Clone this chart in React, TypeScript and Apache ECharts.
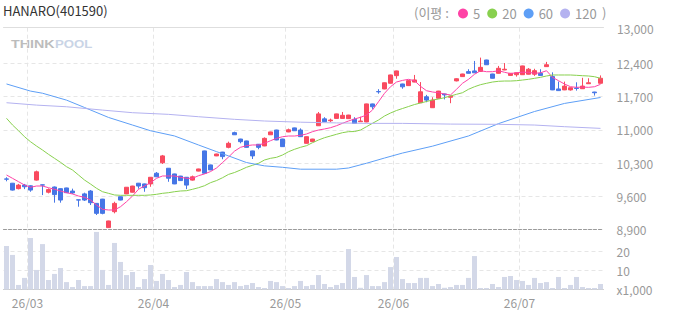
import React, { useEffect, useRef } from "react";
import * as echarts from "echarts";

const TITLE = "HANARO(401590)";
const LEGEND_PREFIX = "(이평 :";
const LEGEND_SUFFIX = ")";
const TOP_PRICE_LABEL = "13,000";

const MONTH_DAYS: [string, number[]][] = [
  ["26/02", [24, 25, 26, 27]],
  ["26/03", [3, 4, 5, 6, 9, 10, 11, 12, 13, 16, 17, 18, 19, 20, 23, 24, 25, 26, 27, 30, 31]],
  ["26/04", [1, 2, 3, 6, 7, 8, 9, 10, 13, 14, 15, 16, 17, 20, 21, 22, 23, 24, 27, 28, 29, 30]],
  ["26/05", [4, 6, 7, 8, 11, 12, 13, 14, 15, 18, 19, 20, 21, 22, 26, 27, 28, 29]],
  ["26/06", [1, 2, 4, 5, 8, 9, 10, 11, 12, 15, 16, 17, 18, 19, 22, 23, 24, 25, 26, 29, 30]],
  ["26/07", [1, 2, 3, 6, 7, 8, 9, 10, 13, 14, 15, 16, 17, 20]],
];

const OPEN = [
  9965, 9875, 9760, 9835, 9820, 9940, 9840, 9685, 9795, 9760,
  9775, 9710, 9525, 9650, 9710, 9450, 9540, 8940, 9275, 9590,
  9650, 9685, 9875, 9860, 9860, 10085, 10305, 10190, 10070, 10025,
  10000, 9940, 10130, 10555, 10260, 10450, 10530, 10630, 10940, 10805,
  10765, 10555, 10695, 10660, 10895, 10995, 10805, 10955, 11040, 10995,
  10715, 10750, 11085, 11230, 11190, 11240, 11240, 11235, 11220, 11170,
  11165, 11545, 11805, 11860, 11980, 12140, 11965, 11930, 12005, 11570,
  11695, 11465, 11665, 11755, 11685, 12030, 12120, 12225, 12240, 12230,
  12470, 12175, 12190, 12260, 12145, 12160, 12160, 12170, 12170, 12190,
  12330, 12120, 11860, 11840, 11840, 11880, 11865, 11970, 11795, 11980,
];
const CLOSE = [
  9960, 9730, 9835, 9800, 9730, 10115, 9835, 9740, 9635, 9520,
  9675, 9670, 9520, 9520, 9465, 9240, 9240, 9080, 9450, 9520,
  9790, 9815, 9815, 9780, 10000, 10010, 10450, 9980, 9860, 9930,
  9835, 10010, 10175, 10085, 10155, 10490, 10435, 10715, 10895, 10750,
  10630, 10450, 10630, 10820, 10955, 10785, 10645, 11000, 10980, 10855,
  10855, 10805, 11335, 11170, 11205, 11335, 11305, 11310, 11135, 11185,
  11545, 11485, 11800, 11990, 12155, 12240, 11905, 12035, 12050, 11800,
  11625, 11625, 11815, 11735, 11710, 12075, 12175, 12190, 12200, 12315,
  12370, 12085, 12295, 12275, 12190, 12200, 12345, 12275, 12245, 12145,
  12370, 11840, 11825, 11920, 11885, 11870, 11920, 11990, 11780, 12085,
];
const LOW = [
  9915, 9720, 9745, 9750, 9695, 9930, 9625, 9660, 9465, 9465,
  9670, 9650, 9380, 9500, 9415, 9205, 9220, 8935, 9240, 9515,
  9645, 9680, 9760, 9695, 9800, 10005, 10280, 9905, 9855, 9925,
  9750, 9930, 10125, 10080, 10150, 10445, 10380, 10610, 10890, 10715,
  10625, 10385, 10590, 10655, 10890, 10780, 10640, 10950, 10975, 10850,
  10710, 10745, 11080, 11165, 11165, 11235, 11235, 11230, 11130, 11165,
  11160, 11440, 11760, 11855, 11975, 12075, 11865, 11925, 12000, 11565,
  11580, 11460, 11660, 11640, 11560, 12020, 12115, 12185, 12195, 12225,
  12365, 12080, 12185, 12255, 12140, 12120, 12155, 12165, 12135, 12140,
  12325, 11835, 11820, 11835, 11825, 11825, 11860, 11965, 11720, 11975,
];
const HIGH = [
  10000, 9880, 9860, 9860, 9830, 10140, 9845, 9765, 9805, 9765,
  9780, 9760, 9525, 9675, 9730, 9455, 9545, 9085, 9485, 9595,
  9795, 9820, 9880, 9865, 10005, 10110, 10470, 10195, 10075, 10030,
  10005, 10035, 10180, 10560, 10265, 10495, 10535, 10750, 10960, 10810,
  10770, 10560, 10700, 10840, 10960, 11000, 10810, 11025, 11045, 11030,
  10860, 10810, 11375, 11265, 11235, 11340, 11375, 11315, 11265, 11275,
  11550, 11550, 11855, 11995, 12160, 12245, 11970, 12040, 12155, 12005,
  11735, 11685, 11820, 11760, 11715, 12085, 12180, 12275, 12450, 12520,
  12475, 12180, 12345, 12405, 12195, 12205, 12350, 12300, 12285, 12275,
  12430, 12210, 12015, 12015, 11890, 12000, 12095, 12085, 11800, 12145,
];

const MA5 = [
  10048, 9978, 9907, 9837, 9789, 9816, 9816, 9780, 9747, 9711,
  9675, 9648, 9605, 9578, 9521, 9416, 9325, 9311, 9311, 9380,
  9485, 9605, 9747, 9816, 9886, 9978, 10027, 10027, 10027, 9999,
  9978, 9978, 10033, 10070, 10120, 10195, 10310, 10425, 10550, 10631,
  10665, 10680, 10680, 10715, 10770, 10820, 10854, 10869, 10869, 10883,
  10911, 10960, 10995, 11017, 11044, 11086, 11137, 11185, 11227, 11263,
  11311, 11417, 11591, 11768, 11907, 12006, 12040, 12063, 12034, 11915,
  11823, 11796, 11781, 11754, 11733, 11853, 11979, 12063, 12169, 12244,
  12223, 12223, 12244, 12211, 12183, 12202, 12211, 12211, 12190, 12200,
  12244, 12105, 12034, 11964, 11907, 11894, 11900, 11894, 11907, 11958,
];
const MA20 = [
  11242, 11101, 10981, 10854, 10749, 10658, 10574, 10483, 10399, 10315,
  10223, 10153, 10048, 9942, 9858, 9768, 9696, 9662, 9627, 9620,
  9620, 9620, 9620, 9620, 9627, 9641, 9662, 9675, 9696, 9711,
  9717, 9747, 9780, 9822, 9886, 9930, 9990, 10060, 10100, 10153,
  10210, 10252, 10294, 10364, 10399, 10420, 10469, 10538, 10589, 10631,
  10665, 10728, 10785, 10833, 10869, 10905, 10939, 10960, 10963, 10995,
  11065, 11137, 11206, 11290, 11353, 11406, 11448, 11490, 11532, 11564,
  11596, 11627, 11648, 11676, 11712, 11747, 11781, 11853, 11907, 11950,
  11979, 12006, 12021, 12027, 12027, 12034, 12048, 12063, 12084, 12105,
  12133, 12154, 12154, 12154, 12154, 12147, 12139, 12133, 12118, 12084,
];
// MA60 / MA120 read at sampled days (other days left empty, joined by the line)
const MA60_POINTS: [number, number][] = [
  [0, 11965], [4, 11815], [6, 11770], [10, 11625], [13, 11470], [17, 11260],
  [21, 11100], [24, 10980], [28, 10870], [32, 10680], [35, 10540], [37, 10450],
  [40, 10310], [43, 10240], [46, 10210], [49, 10170], [55, 10170], [57, 10195],
  [60, 10295], [63, 10405], [66, 10510], [71, 10655], [77, 10870], [82, 11130],
  [88, 11385], [93, 11555], [99, 11680],
];
const MA120_POINTS: [number, number][] = [
  [0, 11570], [5, 11520], [10, 11485], [16, 11415], [21, 11360], [27, 11325],
  [32, 11275], [38, 11220], [43, 11185], [49, 11160], [55, 11145], [60, 11135],
  [66, 11135], [74, 11120], [82, 11115], [88, 11100], [93, 11065], [99, 11030],
];
// volume in thousands of shares
const VOLUME = [
  22.9, 18.2, 2.4, 6.1, 27.1, 10.3, 23.9, 5.0, 8.2, 11.3,
  3.9, 1.3, 5.0, 1.8, 1.8, 30.3, 10.3, 2.4, 24.5, 14.5,
  7.6, 9.2, 1.3, 5.5, 12.9, 4.5, 8.2, 5.0, 1.3, 2.4,
  9.2, 3.9, 1.8, 1.8, 1.8, 5.5, 3.9, 2.4, 3.9, 1.8,
  2.4, 3.4, 1.3, 0.8, 4.5, 3.9, 1.8, 0.8, 1.8, 4.5,
  1.8, 2.4, 7.6, 2.9, 1.3, 2.4, 3.4, 21.3, 6.6, 0.9,
  7.6, 1.8, 1.8, 3.9, 11.8, 17.1, 5.5, 3.4, 3.4, 6.1,
  6.1, 1.8, 2.9, 0.9, 1.3, 2.4, 2.4, 6.1, 17.6, 0.8,
  0.8, 2.9, 1.3, 6.6, 7.1, 5.0, 4.5, 2.4, 6.1, 3.4,
  3.9, 0.8, 6.6, 0.8, 2.4, 6.6, 1.3, 0.8, 0.8, 2.9,
];

const PRICE_TICKS = [8900, 9600, 10300, 11000, 11700, 12400];
const PRICE_MIN = 8900;
const PRICE_MAX = 13150;
const VOLUME_TICKS = [0, 10, 20];
const VOLUME_MAX = 31;

const MA_NAMES = ["5", "20", "60", "120"];
const MA_COLORS = ["#ff42a6", "#88d04e", "#5e9ff6", "#b4b2f0"];
const UP = "#f94a5f";
const DOWN = "#4676e6";
const VOL_COLOR = "#d3d8e8";
const FONT = '"Noto Sans CJK KR", "Noto Sans", sans-serif';

const DATES = MONTH_DAYS.flatMap(([m, ds]) => ds.map((d) => `${m}/${String(d).padStart(2, "0")}`));
const isMonthStart = (i: number) => i > 0 && DATES[i].slice(0, 5) !== DATES[i - 1].slice(0, 5);

function sparse(points: [number, number][]) {
  const arr: (number | null)[] = DATES.map(() => null);
  points.forEach(([i, v]) => (arr[i] = v));
  return arr;
}

export default function App() {
  const ref = useRef<HTMLDivElement>(null);
  useEffect(() => {
    if (!ref.current) return;
    const chart = echarts.init(ref.current, undefined, { renderer: "svg" });
    const gridLine = { color: "#e6e6e6", type: [4, 3] as any, width: 1 };
    const maData = [MA5, MA20, sparse(MA60_POINTS), sparse(MA120_POINTS)];
    chart.setOption({
      animation: false,
      backgroundColor: "#ffffff",
      textStyle: { fontFamily: FONT },
      grid: [
        { left: 3.5, right: 69.5, top: 27.7, height: 201.8 },
        { left: 3.5, right: 69.5, top: 230.6, height: 58.9 },
      ],
      legend: {
        data: MA_NAMES,
        left: 453,
        top: 2,
        padding: 5,
        icon: "circle",
        itemWidth: 10,
        itemHeight: 10,
        itemGap: 7,
        selectedMode: false,
        textStyle: { color: "#999", fontSize: 13, fontFamily: FONT },
      },
      xAxis: [
        {
          type: "category",
          gridIndex: 0,
          data: DATES,
          boundaryGap: true,
          axisLine: { show: true, lineStyle: { color: "#9a9a9a", type: [3, 2] } },
          axisTick: { show: false },
          axisLabel: { show: false },
          splitLine: { show: true, interval: (i: number) => isMonthStart(i), showMaxLine: false, lineStyle: gridLine },
        },
        {
          type: "category",
          gridIndex: 0,
          position: "top",
          data: DATES,
          axisLine: { show: true, lineStyle: { color: "#dedede" } },
          axisTick: { show: false },
          axisLabel: { show: false },
          splitLine: { show: false },
        },
        {
          type: "category",
          gridIndex: 1,
          data: DATES,
          boundaryGap: true,
          axisLine: { show: true, lineStyle: { color: "#cccccc" } },
          axisTick: { show: false },
          axisLabel: {
            interval: (i: number) => isMonthStart(i),
            formatter: (v: string) => v.slice(0, 5),
            color: "#999",
            fontSize: 12,
            margin: 7,
            padding: [0, 6, 0, 0],
            fontFamily: FONT,
          },
          splitLine: { show: true, interval: (i: number) => isMonthStart(i), showMaxLine: false, lineStyle: gridLine },
        },
      ],
      yAxis: [
        {
          type: "value",
          gridIndex: 0,
          position: "right",
          min: PRICE_MIN,
          max: PRICE_MAX,
          axisLine: { show: false },
          axisTick: { show: false, customValues: PRICE_TICKS },
          axisLabel: {
            customValues: PRICE_TICKS,
            formatter: (v: number) => v.toLocaleString("en-US"),
            color: "#999",
            fontSize: 12,
            margin: 13,
            fontFamily: FONT,
          },
          splitLine: { show: true, lineStyle: gridLine },
        },
        {
          type: "value",
          gridIndex: 1,
          position: "right",
          min: 0,
          max: VOLUME_MAX,
          axisLine: { show: false },
          axisTick: { show: false, customValues: VOLUME_TICKS },
          axisLabel: {
            customValues: VOLUME_TICKS,
            formatter: (v: number) => (v === 0 ? "x1,000" : String(v)),
            color: "#999",
            fontSize: 12,
            margin: 13,
            fontFamily: FONT,
          },
          splitLine: { show: true, lineStyle: gridLine },
        },
      ],
      graphic: [
        {
          type: "text",
          left: 3,
          top: 4,
          style: { text: TITLE, fill: "#333", font: `13px ${FONT}` },
        },
        {
          type: "text",
          x: 414,
          y: 12,
          style: { text: LEGEND_PREFIX, fill: "#999", font: `13px ${FONT}`, verticalAlign: "middle" },
        },
        {
          type: "text",
          x: 602,
          y: 12,
          style: { text: LEGEND_SUFFIX, fill: "#999", font: `13px ${FONT}`, verticalAlign: "middle" },
        },
        {
          type: "text",
          x: 617,
          y: 28,
          style: { text: TOP_PRICE_LABEL, fill: "#999", font: `12px ${FONT}`, verticalAlign: "middle" },
        },
        {
          type: "group",
          x: 11,
          y: 44,
          children: [
            {
              type: "text",
              x: 0,
              y: 0,
              scaleX: 1.3,
              style: { text: "THINK", fill: "#bcbcbc", font: 'bold 11px "Liberation Sans", sans-serif', verticalAlign: "middle" },
            },
            {
              type: "text",
              x: 44,
              y: 0,
              scaleX: 1.2,
              style: { text: "POOL", fill: "#c9d4e6", font: 'bold 11px "Liberation Sans", sans-serif', verticalAlign: "middle" },
            },
          ],
        },
      ],
      series: [
        {
          type: "candlestick",
          name: "price",
          xAxisIndex: 0,
          yAxisIndex: 0,
          barWidth: 4,
          data: OPEN.map((o, i) => [o, CLOSE[i], LOW[i], HIGH[i]]),
          itemStyle: { color: UP, color0: DOWN, borderColor: UP, borderColor0: DOWN, borderWidth: 1 },
          z: 2,
        },
        ...MA_NAMES.map((name, k) => ({
          type: "line",
          name,
          xAxisIndex: 0,
          yAxisIndex: 0,
          data: maData[k],
          connectNulls: true,
          symbol: "none",
          color: MA_COLORS[k],
          lineStyle: { width: 1, color: MA_COLORS[k] },
          z: 3,
        })),
        {
          type: "bar",
          name: "volume",
          xAxisIndex: 2,
          yAxisIndex: 1,
          barWidth: 5,
          data: VOLUME,
          itemStyle: { color: VOL_COLOR },
        },
      ],
    });
    return () => chart.dispose();
  }, []);
  return (
    <div
      ref={ref}
      style={{ position: "fixed", left: 0, top: 0, width: 673, height: 315, background: "#fff" }}
    />
  );
}
